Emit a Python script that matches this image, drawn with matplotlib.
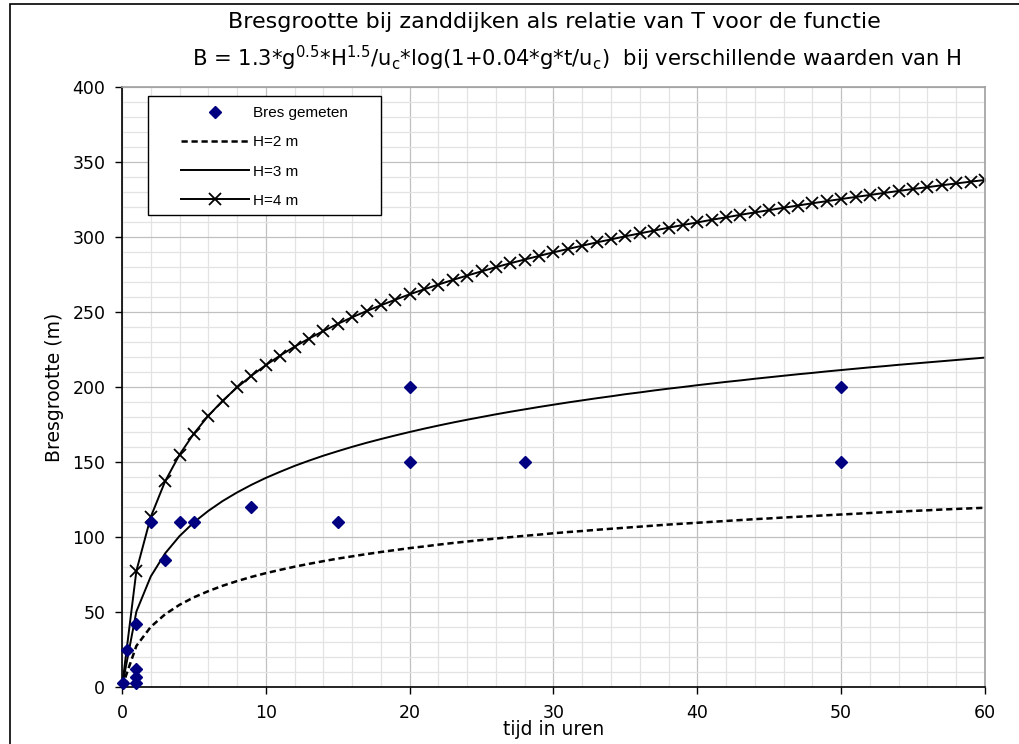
import matplotlib.pyplot as plt
from matplotlib.lines import Line2D
from matplotlib.patches import Rectangle
from matplotlib.ticker import MultipleLocator

plt.rcParams['mathtext.default'] = 'regular'

# tijd in uren (elk uur)
t = list(range(0, 61))

# H = 2 m
b_h2 = [0, 27.4, 40.1, 48.5, 54.8, 59.8, 63.9, 67.5, 70.6, 73.4, 75.9,
        78.1, 80.2, 82.1, 83.9, 85.6, 87.1, 88.6, 90.0, 91.3, 92.6,
        93.7, 94.9, 96.0, 97.0, 98.0, 99.0, 99.9, 100.8, 101.6, 102.5,
        103.3, 104.0, 104.8, 105.5, 106.2, 106.9, 107.6, 108.3, 108.9, 109.5,
        110.1, 110.7, 111.3, 111.9, 112.4, 113.0, 113.5, 114.0, 114.5, 115.0,
        115.5, 116.0, 116.5, 116.9, 117.4, 117.8, 118.3, 118.7, 119.1, 119.5]

# H = 3 m
b_h3 = [0, 50.3, 73.7, 89.1, 100.6, 109.8, 117.4, 124.0, 129.7, 134.8, 139.4,
        143.5, 147.4, 150.9, 154.2, 157.2, 160.1, 162.8, 165.3, 167.7, 170.0,
        172.2, 174.3, 176.3, 178.2, 180.0, 181.8, 183.5, 185.1, 186.7, 188.2,
        189.7, 191.1, 192.5, 193.8, 195.2, 196.4, 197.7, 198.9, 200.0, 201.2,
        202.3, 203.4, 204.4, 205.5, 206.5, 207.5, 208.5, 209.4, 210.4, 211.3,
        212.2, 213.1, 213.9, 214.8, 215.6, 216.4, 217.2, 218.0, 218.8, 219.6]

# H = 4 m
b_h4 = [0, 77.4, 113.4, 137.2, 154.9, 169.0, 180.8, 190.9, 199.7, 207.5, 214.6,
        221.0, 226.9, 232.3, 237.3, 242.1, 246.5, 250.6, 254.5, 258.2, 261.8,
        265.1, 268.3, 271.4, 274.3, 277.1, 279.9, 282.5, 285.0, 287.4, 289.8,
        292.0, 294.2, 296.4, 298.4, 300.5, 302.4, 304.3, 306.2, 308.0, 309.7,
        311.5, 313.1, 314.8, 316.4, 317.9, 319.5, 321.0, 322.5, 323.9, 325.3,
        326.7, 328.0, 329.4, 330.7, 332.0, 333.2, 334.5, 335.7, 336.9, 338.0]

# gemeten bressen
t_meet = [0.05, 0.35, 1, 1, 1, 1, 2, 3, 4, 5, 9, 15, 20, 20, 28, 50, 50]
b_meet = [3, 25, 42, 12, 7, 3, 110, 85, 110, 110, 120, 110, 200, 150, 150, 200, 150]

dotted = (0, (2.5, 1.5))

fig = plt.figure(figsize=(10.2, 7.44), dpi=100)
ax = fig.add_axes([122/1020, 1-687/744, 863/1020, 600/744])

ax.plot(t, b_h2, color='black', lw=1.8, ls=dotted, label='H=2 m')
ax.plot(t, b_h3, color='black', lw=1.4, label='H=3 m')
ax.plot(t, b_h4, color='black', lw=1.4, marker='x', ms=8, mew=1.3, label='H=4 m')
ax.plot(t_meet, b_meet, ls='none', marker='D', ms=6.5, color='#000080',
        label='Bres gemeten', clip_on=False, zorder=5)

ax.set_xlim(0, 60)
ax.set_ylim(0, 400)
ax.xaxis.set_major_locator(MultipleLocator(10))
ax.xaxis.set_minor_locator(MultipleLocator(2))
ax.yaxis.set_major_locator(MultipleLocator(50))
ax.yaxis.set_minor_locator(MultipleLocator(10))
ax.grid(which='major', color='#c0c0c0', lw=0.9)
ax.grid(which='minor', color='#e3e3e3', lw=0.9)
ax.set_axisbelow(True)

ax.tick_params(which='major', direction='out', length=5, width=1, labelsize=12.5, pad=7)
ax.tick_params(which='minor', length=0)
for s in ['left', 'bottom']:
    ax.spines[s].set_color('black')
    ax.spines[s].set_linewidth(1.2)
for s in ['top', 'right']:
    ax.spines[s].set_color('#a0a0a0')
    ax.spines[s].set_linewidth(1.2)

ax.set_xlabel('tijd in uren', fontsize=13.5, labelpad=-1)
ax.set_ylabel('Bresgrootte (m)', fontsize=13.5, labelpad=6)

fig.text(554/1020, 1-22/744, 'Bresgrootte bij zanddijken als relatie van T voor de functie',
         ha='center', va='center', fontsize=16, family='DejaVu Sans')
fig.text(577/1020, 1-58/744,
         'B = 1.3*g$^{0.5}$*H$^{1.5}$/u$_c$*log(1+0.04*g*t/u$_c$)  bij verschillende waarden van H',
         ha='center', va='center', fontsize=15.2, family='DejaVu Sans')

# legenda: kader apart, inhoud zonder kader
ax.add_patch(Rectangle((26/863, (687-215)/600), 233/863, 119/600, transform=ax.transAxes,
                       facecolor='white', edgecolor='black', lw=1, zorder=6))
handles = [
    Line2D([], [], ls='none', marker='D', ms=6.5, color='#000080'),
    Line2D([], [], color='black', lw=1.8, ls=dotted),
    Line2D([], [], color='black', lw=1.4),
    Line2D([], [], color='black', lw=1.4, marker='x', ms=8, mew=1.3),
]
labels = ['Bres gemeten', 'H=2 m', 'H=3 m', 'H=4 m']
leg = ax.legend(handles, labels, loc='upper left', bbox_to_anchor=(59/863, 581/600),
                frameon=False, borderpad=0, borderaxespad=0, numpoints=1,
                handlelength=4.45, handletextpad=0.25, labelspacing=1.0,
                prop={'family': 'Liberation Sans', 'size': 11})
leg.set_zorder(7)

# rand om de grafiek
fig.patches.append(Rectangle((10/1020, -0.1), 1.2, 1-4/744 + 0.1,
                             transform=fig.transFigure, fill=False,
                             edgecolor='black', lw=1.2))

fig.savefig('out.png', dpi=100)
